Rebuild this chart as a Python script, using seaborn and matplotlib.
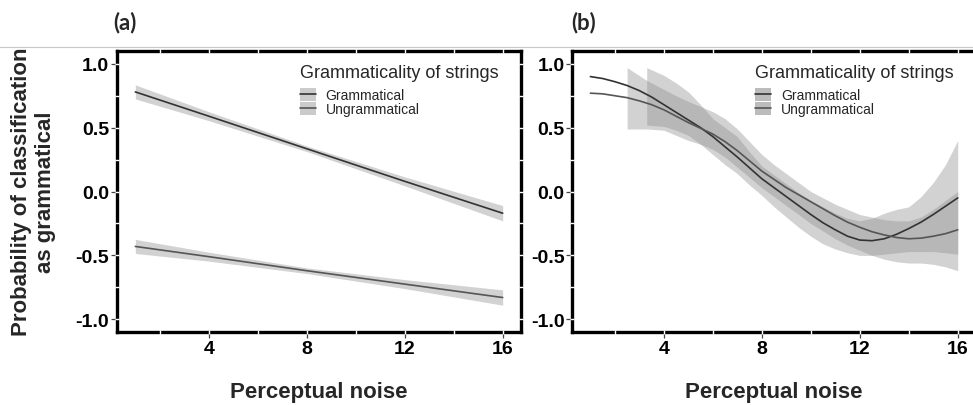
import matplotlib
matplotlib.use('Agg')
import matplotlib.pyplot as plt
import pandas as pd
import seaborn as sns
from matplotlib.patches import Patch
from matplotlib.lines import Line2D
from matplotlib.ticker import MultipleLocator

groups = ['Grammatical', 'Ungrammatical']

# panel (a) - linear fits
noise_a = [1, 4, 8, 12, 16]
gram_a = [0.78, 0.59, 0.335, 0.08, -0.17]
gram_a_lo = [0.725, 0.555, 0.313, 0.045, -0.23]
gram_a_hi = [0.835, 0.625, 0.357, 0.115, -0.11]
ungram_a = [-0.43, -0.51, -0.62, -0.725, -0.83]
ungram_a_lo = [-0.485, -0.545, -0.642, -0.76, -0.89]
ungram_a_hi = [-0.375, -0.475, -0.598, -0.69, -0.77]

# panel (b) - smooth fits, read every half unit
noise_b = [1, 1.5, 2, 2.5, 3, 3.5, 4, 4.5, 5, 5.5, 6, 6.5, 7, 7.5, 8, 8.5,
           9, 9.5, 10, 10.5, 11, 11.5, 12, 12.5, 13, 13.5, 14, 14.5, 15, 15.5, 16]
gram_b = [0.90, 0.885, 0.86, 0.83, 0.79, 0.74, 0.68, 0.62, 0.56, 0.50, 0.43,
          0.35, 0.27, 0.185, 0.10, 0.03, -0.04, -0.11, -0.18, -0.245, -0.30,
          -0.35, -0.38, -0.385, -0.37, -0.335, -0.29, -0.24, -0.18, -0.115, -0.05]
ungram_b = [0.77, 0.765, 0.75, 0.735, 0.71, 0.68, 0.64, 0.59, 0.54, 0.495, 0.45,
            0.39, 0.32, 0.24, 0.16, 0.095, 0.03, -0.025, -0.08, -0.135, -0.19,
            -0.24, -0.28, -0.315, -0.34, -0.36, -0.37, -0.365, -0.35, -0.33, -0.30]

# confidence bands in (b) start later than the lines
band_x_gram_b = [3.3, 4, 4.5, 5, 5.5, 6, 6.5, 7, 7.5, 8, 8.5, 9, 9.5, 10, 10.5,
                 11, 11.5, 12, 12.5, 13, 13.5, 14, 14.5, 15, 15.5, 16]
gram_b_lo = [0.52, 0.51, 0.48, 0.44, 0.37, 0.29, 0.21, 0.14, 0.05, -0.03, -0.12,
             -0.20, -0.28, -0.35, -0.41, -0.45, -0.48, -0.50, -0.50, -0.49, -0.48,
             -0.47, -0.47, -0.47, -0.48, -0.49]
gram_b_hi = [0.97, 0.91, 0.85, 0.78, 0.68, 0.57, 0.50, 0.43, 0.31, 0.20, 0.13,
             0.06, -0.01, -0.07, -0.12, -0.17, -0.21, -0.23, -0.21, -0.17, -0.14,
             -0.12, -0.04, 0.07, 0.21, 0.40]
band_x_ungram_b = [2.5, 3.3, 4, 4.5, 5, 5.5, 6, 6.5, 7, 7.5, 8, 8.5, 9, 9.5, 10,
                   10.5, 11, 11.5, 12, 12.5, 13, 13.5, 14, 14.5, 15, 15.5, 16]
ungram_b_lo = [0.49, 0.49, 0.48, 0.44, 0.40, 0.37, 0.33, 0.27, 0.19, 0.11, 0.03,
               -0.04, -0.11, -0.18, -0.25, -0.31, -0.37, -0.42, -0.46, -0.50,
               -0.53, -0.55, -0.56, -0.56, -0.57, -0.59, -0.62]
ungram_b_hi = [0.97, 0.87, 0.80, 0.75, 0.705, 0.665, 0.625, 0.57, 0.49, 0.39, 0.29,
               0.21, 0.14, 0.07, 0.00, -0.05, -0.10, -0.14, -0.18, -0.20, -0.22,
               -0.23, -0.23, -0.20, -0.14, -0.07, 0.00]

x_ticks = [4, 8, 12, 16]
y_ticks = [-1.0, -0.5, 0.0, 0.5, 1.0]
y_labels = ['-1.0', '-0.5', '0.0', '0.5', '1.0']

sns.set_theme(style='white')
plt.rcParams['font.family'] = ['Liberation Sans', 'DejaVu Sans']

line_cols = {'Grammatical': '#333333', 'Ungrammatical': '#555555'}
band_col = '#8f8f8f'

fig = plt.figure(figsize=(9.73, 4.06), dpi=100)
ax_a = fig.add_axes([0.1202, 0.1798, 0.4153, 0.692])
ax_b = fig.add_axes([0.5879, 0.1798, 0.4153, 0.692])

df_a = pd.DataFrame({'noise': noise_a * 2,
                     'prob': gram_a + ungram_a,
                     'group': ['Grammatical'] * len(noise_a) + ['Ungrammatical'] * len(noise_a)})
df_b = pd.DataFrame({'noise': noise_b * 2,
                     'prob': gram_b + ungram_b,
                     'group': ['Grammatical'] * len(noise_b) + ['Ungrammatical'] * len(noise_b)})

ax_a.fill_between(noise_a, gram_a_lo, gram_a_hi, color=band_col, alpha=0.4, lw=0, zorder=1)
ax_a.fill_between(noise_a, ungram_a_lo, ungram_a_hi, color=band_col, alpha=0.4, lw=0, zorder=1)
ax_b.fill_between(band_x_gram_b, gram_b_lo, gram_b_hi, color=band_col, alpha=0.4, lw=0, zorder=1)
ax_b.fill_between(band_x_ungram_b, ungram_b_lo, ungram_b_hi, color=band_col, alpha=0.4, lw=0, zorder=1)

sns.lineplot(data=df_a, x='noise', y='prob', hue='group', palette=line_cols,
             lw=1.2, legend=False, ax=ax_a, zorder=2)
sns.lineplot(data=df_b, x='noise', y='prob', hue='group', palette=line_cols,
             lw=1.2, legend=False, ax=ax_b, zorder=2)

for ax, key_col in [(ax_a, '#cbcbcb'), (ax_b, '#bcbcbc')]:
    ax.set_axisbelow(False)
    ax.set_xlim(0.25, 16.75)
    ax.set_ylim(-1.1, 1.1)
    ax.set_xticks(x_ticks, labels=[str(t) for t in x_ticks], fontsize=14, fontweight='bold')
    ax.set_yticks(y_ticks, labels=y_labels, fontsize=14, fontweight='bold')
    ax.xaxis.set_minor_locator(MultipleLocator(2))
    ax.yaxis.set_minor_locator(MultipleLocator(0.25))
    ax.xaxis.remove_overlapping_locs = False
    ax.yaxis.remove_overlapping_locs = False
    ax.tick_params(which='major', direction='out', length=4.5, width=0.9,
                   color='#444444', pad=1.0, labelcolor='black',
                   bottom=True, left=True, top=False, right=False)
    ax.tick_params(which='minor', direction='inout', length=3.4, width=1.0,
                   color='white', bottom=True, left=True, top=True, right=True)
    ax.set_xlabel('')
    ax.set_ylabel('')
    for sp in ax.spines.values():
        sp.set_visible(True)
        sp.set_color('black')
        sp.set_linewidth(2.4)
        sp.set_zorder(2.4)
    ax.text(0.5, -0.2135, 'Perceptual noise', transform=ax.transAxes,
            ha='center', va='center', fontsize=16, fontweight='bold')

    handles = [(Patch(facecolor=key_col, edgecolor='none'),
                Line2D([], [], color=line_cols[g], lw=1.2)) for g in groups]
    ax.legend(handles, groups, loc='upper left', bbox_to_anchor=(0.453, 0.868),
              frameon=False, fontsize=10, handlelength=1.15, handleheight=1.05,
              handletextpad=0.7, labelspacing=0, borderpad=0, borderaxespad=0)
    ax.text(0.453, 0.922, 'Grammaticality of strings', transform=ax.transAxes,
            ha='left', va='center', fontsize=13)

fig.text(0.0344, 0.527, 'Probability of classification\nas grammatical',
         rotation=90, ha='center', va='center', fontsize=16, fontweight='bold',
         multialignment='center')

fig.text(125 / 973, 1 - 23 / 406, '(a)', ha='center', va='center',
         fontsize=16, fontweight='bold', family=['Lato', 'DejaVu Sans'])
fig.text(584 / 973, 1 - 23 / 406, '(b)', ha='center', va='center',
         fontsize=16, fontweight='bold', family=['Lato', 'DejaVu Sans'])

fig.add_artist(Line2D([0, 1], [1 - 48 / 406, 1 - 48 / 406], transform=fig.transFigure,
                      color='#c8c8c8', lw=0.8))

fig.savefig('out.png', dpi=100)
